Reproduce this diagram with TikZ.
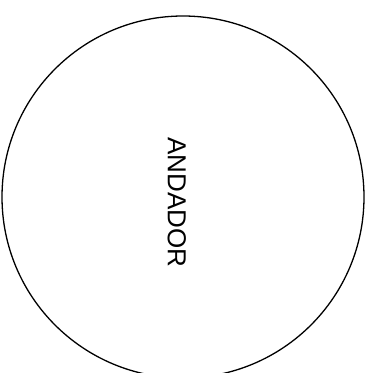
\documentclass[tikz,border=0pt]{standalone}
\usepackage{fontspec}
\setmainfont{Liberation Sans}
\begin{document}
\begin{tikzpicture}[x=1pt, y=1pt, line width=1.3pt]
  \useasboundingbox (0,0) rectangle (372,373);
  % el circulo
  \node[draw, circle, minimum size=362pt, inner sep=0pt] (andador) at (183,176) {};
  % el nombre, girado
  \node[rotate=-90, inner sep=0pt, font=\fontsize{26}{30}\selectfont] (nombre) at (176.7,170.5) {ANDADOR};
\end{tikzpicture}
\end{document}
